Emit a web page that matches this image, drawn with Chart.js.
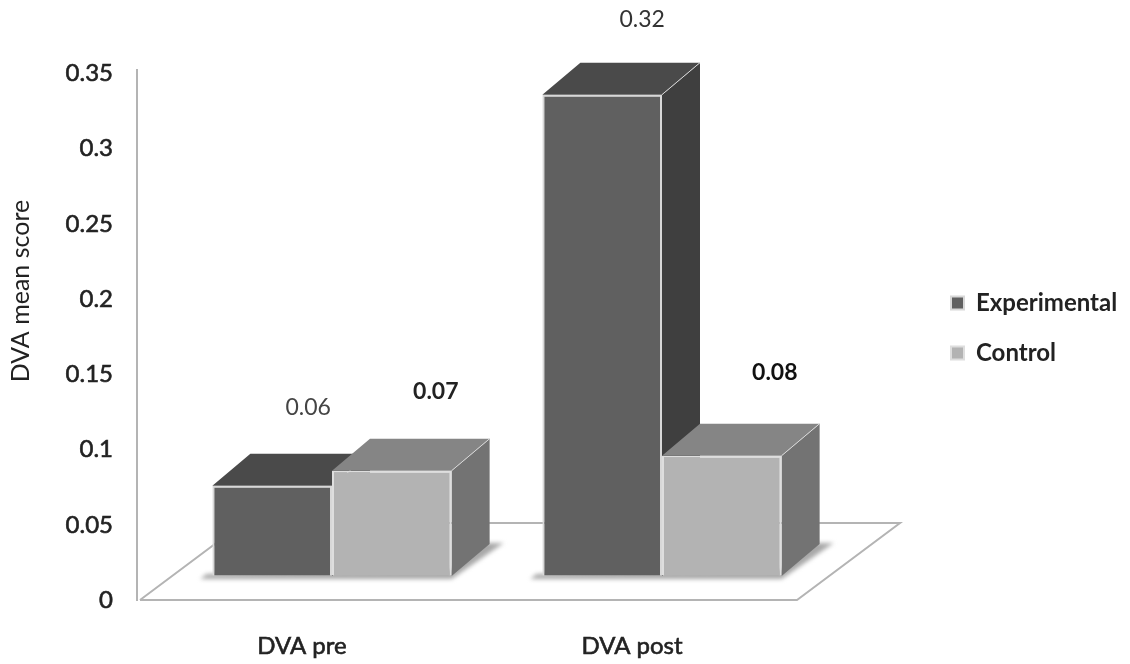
<!DOCTYPE html>
<html>
<head>
<meta charset="utf-8">
<title>DVA mean score</title>
<script src="https://cdn.jsdelivr.net/npm/chart.js@4/dist/chart.umd.min.js"></script>
<style>
  html, body { margin: 0; background: #fff; }
  canvas { display: block; filter: blur(0.6px); }
</style>
</head>
<body>
<canvas id="dva-chart" width="1130" height="664"></canvas>
<script>
const categories = ['DVA pre', 'DVA post'];
const experimentalValues = [0.06, 0.32];
const controlValues = [0.07, 0.08];
const yTickLabels = ['0', '0.05', '0.1', '0.15', '0.2', '0.25', '0.3', '0.35'];
const yTitle = 'DVA mean score';

// Fake 3D look: front faces are pushed off the axis plane, then top and side get added
const shift = { x: 30, y: -24 };
const depth = { x: 38, y: -32 };
const floorDepth = { x: 103, y: -77 };
const faces = [
  { top: '#4a4a4a', side: '#3f3f3f' },
  { top: '#858585', side: '#737373' }
];
// where each value label sits relative to its bar, and how heavy it looks
const labelStyles = [
  [{ dx: 36, dy: -78, weight: 400, color: '#444' }, { dx: 40, dy: -75, weight: 400, color: '#333' }],
  [{ dx: 44, dy: -79, weight: 700, color: '#222' }, { dx: 53, dy: -83, weight: 700, color: '#111' }]
];
const legendPadding = 26;

function poly(ctx, pts) {
  ctx.beginPath();
  pts.forEach((p, i) => (i ? ctx.lineTo(p[0], p[1]) : ctx.moveTo(p[0], p[1])));
  ctx.closePath();
}

function drawFaces(chart, index) {
  const ctx = chart.ctx;
  const base = chart.chartArea.bottom + shift.y;
  const colors = faces[index];
  ctx.save();
  chart.getDatasetMeta(index).data.forEach(bar => {
    const l = bar.x - bar.width / 2 + shift.x;
    const r = bar.x + bar.width / 2 + shift.x;
    const t = bar.y + shift.y;
    ctx.strokeStyle = '#d8d8d8';
    ctx.lineWidth = 1;
    ctx.fillStyle = colors.side;
    poly(ctx, [[r, t], [r + depth.x, t + depth.y], [r + depth.x, base + depth.y], [r, base]]);
    ctx.fill();
    ctx.fillStyle = colors.top;
    poly(ctx, [[l, t], [l + depth.x, t + depth.y], [r + depth.x, t + depth.y], [r, t]]);
    ctx.fill();
    ctx.beginPath();
    ctx.moveTo(r, t);
    ctx.lineTo(r + depth.x, t + depth.y);
    ctx.stroke();
  });
  ctx.restore();
}

const fake3d = {
  id: 'fake3d',
  afterLayout(chart) {
    // legend sits outside the plot, so put its box there by hand
    const legend = chart.legend;
    legend.left = 951 - legendPadding;
    legend.right = 1130;
    legend.top = 291 - legendPadding;
    legend.bottom = 420;
  },
  beforeDatasetsDraw(chart) {
    const ctx = chart.ctx;
    const a = chart.chartArea;
    ctx.save();
    ctx.strokeStyle = '#b4b4b4';
    ctx.lineWidth = 2;
    ctx.beginPath();
    ctx.moveTo(a.left, 69);
    ctx.lineTo(a.left, a.top);
    ctx.moveTo(a.left + 3, a.bottom);
    ctx.lineTo(a.left + 3 + floorDepth.x, a.bottom + floorDepth.y);
    ctx.lineTo(a.right + floorDepth.x, a.bottom + floorDepth.y);
    ctx.lineTo(a.right, a.bottom);
    ctx.lineTo(a.left + 3, a.bottom);
    ctx.stroke();

    // soft shadow on the floor under each pair of bars
    const exp = chart.getDatasetMeta(0).data;
    const ctl = chart.getDatasetMeta(1).data;
    const base = a.bottom + shift.y;
    ctx.filter = 'blur(2px)';
    ctx.fillStyle = '#a8a8a8';
    exp.forEach((bar, i) => {
      const l = bar.x - bar.width / 2 + shift.x;
      const r = ctl[i].x + ctl[i].width / 2 + shift.x;
      poly(ctx, [[l - 12, base + 3], [r, base + 3], [r + 52, base - 33], [r + 30, base - 33], [r, base - 6], [l - 6, base - 2]]);
      ctx.fill();
    });
    ctx.restore();
  },
  // the library paints dataset 1 first and 0 on top; here the Control bars must overlap,
  // so Experimental goes out during Control's turn and its own turn is skipped
  beforeDatasetDraw(chart, args) {
    if (args.index === 0) return false;
    const ctx = chart.ctx;
    drawFaces(chart, 0);
    ctx.save();
    ctx.translate(shift.x, shift.y);
    chart.getDatasetMeta(0).controller.draw();
    ctx.restore();
    drawFaces(chart, 1);
    ctx.save();
    ctx.translate(shift.x, shift.y);
  },
  afterDatasetDraw(chart, args) {
    if (args.index === 1) chart.ctx.restore();
  },
  afterDatasetsDraw(chart) {
    const ctx = chart.ctx;
    ctx.save();
    ctx.textAlign = 'center';
    ctx.textBaseline = 'middle';
    chart.data.datasets.forEach((ds, d) => {
      chart.getDatasetMeta(d).data.forEach((bar, i) => {
        const st = labelStyles[d][i];
        ctx.font = st.weight + ' 23px Lato';
        ctx.fillStyle = st.color;
        ctx.fillText(String(ds.data[i]), bar.x + shift.x + st.dx, bar.y + shift.y + st.dy);
      });
    });
    // the axis title is not centred on the scale in the original, so it is placed here
    ctx.translate(21, 291);
    ctx.rotate(-Math.PI / 2);
    ctx.font = '400 25px Lato';
    ctx.fillStyle = '#222';
    ctx.fillText(yTitle, 0, 0);
    ctx.restore();
  }
};

new Chart(document.getElementById('dva-chart'), {
  type: 'bar',
  data: {
    labels: categories,
    datasets: [
      { label: 'Experimental', data: experimentalValues, backgroundColor: '#606060', borderColor: '#d8d8d8', borderWidth: 2 },
      { label: 'Control', data: controlValues, backgroundColor: '#b3b3b3', borderColor: '#dedede', borderWidth: 2 }
    ]
  },
  options: {
    responsive: false,
    animation: false,
    layout: { padding: { top: 73.5, right: 333, bottom: 0, left: 0 } },
    datasets: { bar: { barPercentage: 1, categoryPercentage: 0.725, clip: false } },
    scales: {
      x: {
        grid: { display: false },
        border: { display: false },
        ticks: {
          color: '#222',
          textStrokeColor: '#222',
          textStrokeWidth: 0.6,
          font: { family: 'Lato', size: 24, weight: 400 },
          padding: 24,
          maxRotation: 0
        },
        afterFit(scale) { scale.height = 64; }
      },
      y: {
        min: 0,
        max: 0.35,
        grid: { drawOnChartArea: false, drawTicks: false },
        border: { color: '#b4b4b4', width: 2 },
        ticks: {
          stepSize: 0.05,
          padding: 24,
          color: '#222',
          textStrokeColor: '#222',
          textStrokeWidth: 0.6,
          font: { family: 'Lato', size: 24, weight: 400 },
          callback: (v, i) => yTickLabels[i]
        },
        afterFit(scale) { scale.width = 137; }
      }
    },
    plugins: {
      tooltip: { enabled: false },
      legend: {
        position: 'chartArea',
        align: 'start',
        labels: {
          boxWidth: 13,
          boxHeight: 13,
          padding: legendPadding,
          color: '#222',
          font: { family: 'Lato', size: 24, weight: 700 }
        }
      }
    }
  },
  plugins: [fake3d]
});
</script>
</body>
</html>
